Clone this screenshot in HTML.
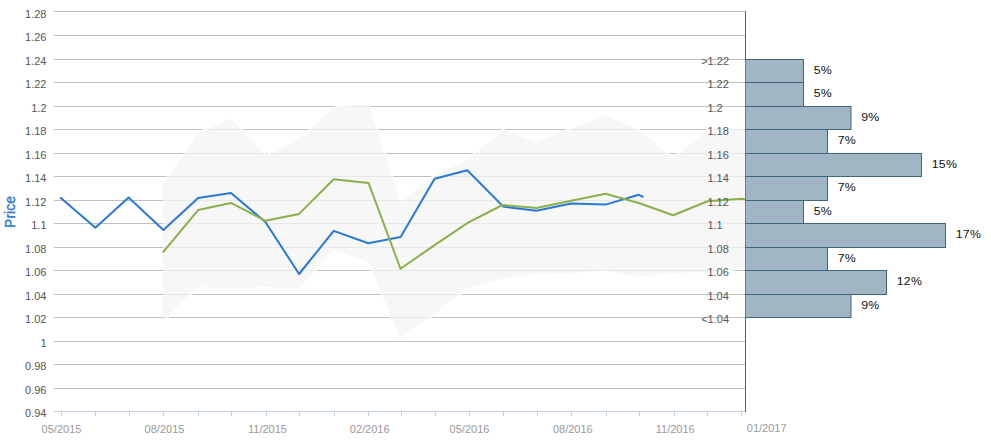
<!DOCTYPE html><html><head><meta charset="utf-8"><style>html,body{margin:0;padding:0;background:#fff;}svg{display:block;font-family:"Liberation Sans",sans-serif;}</style></head><body>
<svg width="991" height="440" viewBox="0 0 991 440">
<rect x="0" y="0" width="991" height="440" fill="#fff"/>
<path d="M54 11.5H745" stroke="#c0c0c0" stroke-width="1"/>
<path d="M54 35.5H745" stroke="#c0c0c0" stroke-width="1"/>
<path d="M54 59.5H745" stroke="#c0c0c0" stroke-width="1"/>
<path d="M54 82.5H745" stroke="#c0c0c0" stroke-width="1"/>
<path d="M54 106.5H745" stroke="#c0c0c0" stroke-width="1"/>
<path d="M54 129.5H745" stroke="#c0c0c0" stroke-width="1"/>
<path d="M54 153.5H745" stroke="#c0c0c0" stroke-width="1"/>
<path d="M54 176.5H745" stroke="#c0c0c0" stroke-width="1"/>
<path d="M54 200.5H745" stroke="#c0c0c0" stroke-width="1"/>
<path d="M54 223.5H745" stroke="#c0c0c0" stroke-width="1"/>
<path d="M54 247.5H745" stroke="#c0c0c0" stroke-width="1"/>
<path d="M54 270.5H745" stroke="#c0c0c0" stroke-width="1"/>
<path d="M54 294.5H745" stroke="#c0c0c0" stroke-width="1"/>
<path d="M54 317.5H745" stroke="#c0c0c0" stroke-width="1"/>
<path d="M54 341.5H745" stroke="#c0c0c0" stroke-width="1"/>
<path d="M54 364.5H745" stroke="#c0c0c0" stroke-width="1"/>
<path d="M54 388.5H745" stroke="#c0c0c0" stroke-width="1"/>
<defs><clipPath id="pc"><rect x="54" y="0" width="691" height="412"/></clipPath></defs>
<g clip-path="url(#pc)"><polygon points="163.1,183.0 198.1,132.6 230.9,117.6 266.0,155.0 299.2,138.5 333.7,107.4 368.4,103.4 400.4,200.3 434.7,174.8 468.0,158.6 503.1,129.3 536.0,142.0 571.0,128.3 605.2,115.3 638.4,129.0 673.4,157.5 707.5,129.0 742.0,128.5 748.0,128.5 748.0,268.5 742.0,268.8 707.5,272.9 673.2,273.5 638.5,277.3 604.5,271.0 571.0,273.5 536.5,274.3 503.4,279.0 468.0,288.0 434.5,315.0 399.8,338.8 368.0,261.8 333.9,250.9 299.3,289.1 264.6,287.6 231.2,289.0 197.6,287.6 163.1,322.3" fill="#f4f4f4" fill-opacity="0.75"/>
<polyline points="163.1,183.0 198.1,132.6 230.9,117.6 266.0,155.0 299.2,138.5 333.7,107.4 368.4,103.4 400.4,200.3 434.7,174.8 468.0,158.6 503.1,129.3 536.0,142.0 571.0,128.3 605.2,115.3 638.4,129.0 673.4,157.5 707.5,129.0 742.0,128.5 748.0,128.5" fill="none" stroke="#fff" stroke-width="1.2" stroke-linejoin="round"/>
<polyline points="163.1,322.3 197.6,287.6 231.2,289.0 264.6,287.6 299.3,289.1 333.9,250.9 368.0,261.8 399.8,338.8 434.5,315.0 468.0,288.0 503.4,279.0 536.5,274.3 571.0,273.5 604.5,271.0 638.5,277.3 673.2,273.5 707.5,272.9 742.0,268.8 748.0,268.5" fill="none" stroke="#fff" stroke-width="1.2" stroke-linejoin="round"/>
<polyline points="60.9,197.9 95.4,227.7 128.6,197.5 163.4,230.0 198.1,197.9 231.0,193.1 265.4,222.0 299.1,274.0 333.7,230.9 368.3,243.2 400.6,237.0 434.6,178.8 467.3,170.3 503.3,206.6 536.3,210.7 571.2,203.6 605.5,204.6 638.7,194.8 642.6,196.7" fill="none" stroke="#2a78d6" stroke-width="2" stroke-linejoin="round" stroke-linecap="round"/>
<polyline points="163.3,251.8 198.1,210.1 231.0,202.9 265.4,220.8 299.1,213.9 333.7,179.3 368.5,182.9 400.5,268.7 434.6,245.1 468.1,222.7 502.5,205.0 536.4,208.1 571.2,200.8 605.5,193.7 638.7,203.0 673.2,215.3 707.5,201.3 742.0,198.7 748.0,200.0" fill="none" stroke="#8bb04b" stroke-width="2" stroke-linejoin="round" stroke-linecap="round"/></g>
<path d="M54 411.5H745" stroke="#c0d0e0" stroke-width="1"/>
<path d="M61.5 411V416" stroke="#c0d0e0" stroke-width="1"/>
<path d="M95.5 411V416" stroke="#c0d0e0" stroke-width="1"/>
<path d="M129.5 411V416" stroke="#c0d0e0" stroke-width="1"/>
<path d="M163.5 411V416" stroke="#c0d0e0" stroke-width="1"/>
<path d="M198.5 411V416" stroke="#c0d0e0" stroke-width="1"/>
<path d="M231.5 411V416" stroke="#c0d0e0" stroke-width="1"/>
<path d="M266.5 411V416" stroke="#c0d0e0" stroke-width="1"/>
<path d="M299.5 411V416" stroke="#c0d0e0" stroke-width="1"/>
<path d="M334.5 411V416" stroke="#c0d0e0" stroke-width="1"/>
<path d="M368.5 411V416" stroke="#c0d0e0" stroke-width="1"/>
<path d="M401.5 411V416" stroke="#c0d0e0" stroke-width="1"/>
<path d="M435.5 411V416" stroke="#c0d0e0" stroke-width="1"/>
<path d="M469.5 411V416" stroke="#c0d0e0" stroke-width="1"/>
<path d="M503.5 411V416" stroke="#c0d0e0" stroke-width="1"/>
<path d="M537.5 411V416" stroke="#c0d0e0" stroke-width="1"/>
<path d="M571.5 411V416" stroke="#c0d0e0" stroke-width="1"/>
<path d="M606.5 411V416" stroke="#c0d0e0" stroke-width="1"/>
<path d="M639.5 411V416" stroke="#c0d0e0" stroke-width="1"/>
<path d="M674.5 411V416" stroke="#c0d0e0" stroke-width="1"/>
<path d="M707.5 411V416" stroke="#c0d0e0" stroke-width="1"/>
<path d="M741.5 411V416" stroke="#c0d0e0" stroke-width="1"/>
<text x="61.5" y="433" font-size="11" fill="#999" text-anchor="middle">05/2015</text>
<text x="164.5" y="433" font-size="11" fill="#999" text-anchor="middle">08/2015</text>
<text x="267.5" y="433" font-size="11" fill="#999" text-anchor="middle">11/2015</text>
<text x="369.7" y="433" font-size="11" fill="#999" text-anchor="middle">02/2016</text>
<text x="469.5" y="433" font-size="11" fill="#999" text-anchor="middle">05/2016</text>
<text x="572.8" y="433" font-size="11" fill="#999" text-anchor="middle">08/2016</text>
<text x="675.2" y="433" font-size="11" fill="#999" text-anchor="middle">11/2016</text>
<text x="746.8" y="432.2" font-size="11" fill="#999">01/2017</text>
<text x="46.5" y="18" font-size="11" fill="#555" text-anchor="end">1.28</text>
<text x="46.5" y="41" font-size="11" fill="#555" text-anchor="end">1.26</text>
<text x="46.5" y="65" font-size="11" fill="#555" text-anchor="end">1.24</text>
<text x="46.5" y="88" font-size="11" fill="#555" text-anchor="end">1.22</text>
<text x="46.5" y="112" font-size="11" fill="#555" text-anchor="end">1.2</text>
<text x="46.5" y="135" font-size="11" fill="#555" text-anchor="end">1.18</text>
<text x="46.5" y="159" font-size="11" fill="#555" text-anchor="end">1.16</text>
<text x="46.5" y="182" font-size="11" fill="#555" text-anchor="end">1.14</text>
<text x="46.5" y="206" font-size="11" fill="#555" text-anchor="end">1.12</text>
<text x="46.5" y="229" font-size="11" fill="#555" text-anchor="end">1.1</text>
<text x="46.5" y="253" font-size="11" fill="#555" text-anchor="end">1.08</text>
<text x="46.5" y="276" font-size="11" fill="#555" text-anchor="end">1.06</text>
<text x="46.5" y="300" font-size="11" fill="#555" text-anchor="end">1.04</text>
<text x="46.5" y="323" font-size="11" fill="#555" text-anchor="end">1.02</text>
<text x="46.5" y="347" font-size="11" fill="#555" text-anchor="end">1</text>
<text x="46.5" y="370" font-size="11" fill="#555" text-anchor="end">0.98</text>
<text x="46.5" y="394" font-size="11" fill="#555" text-anchor="end">0.96</text>
<text x="46.5" y="417" font-size="11" fill="#555" text-anchor="end">0.94</text>
<text transform="translate(14.8,212) rotate(-90)" font-size="14" fill="#2a76d6" stroke="#2a76d6" stroke-width="0.35" text-anchor="middle">Price</text>
<rect x="745.5" y="59.5" width="58.0" height="23" fill="#a0b6c4" stroke="#3f6578" stroke-width="1"/>
<text transform="translate(813.8,73.6) scale(1.12,1)" font-size="11" fill="#111" letter-spacing="0.2">5%</text>
<rect x="745.5" y="82.5" width="58.0" height="24" fill="#a0b6c4" stroke="#3f6578" stroke-width="1"/>
<text transform="translate(813.8,97.1) scale(1.12,1)" font-size="11" fill="#111" letter-spacing="0.2">5%</text>
<rect x="745.5" y="106.5" width="105.5" height="23" fill="#a0b6c4" stroke="#3f6578" stroke-width="1"/>
<text transform="translate(861.3,120.6) scale(1.12,1)" font-size="11" fill="#111" letter-spacing="0.2">9%</text>
<rect x="745.5" y="129.5" width="82.0" height="24" fill="#a0b6c4" stroke="#3f6578" stroke-width="1"/>
<text transform="translate(837.8,144.1) scale(1.12,1)" font-size="11" fill="#111" letter-spacing="0.2">7%</text>
<rect x="745.5" y="153.5" width="176.0" height="23" fill="#a0b6c4" stroke="#3f6578" stroke-width="1"/>
<text transform="translate(931.8,167.6) scale(1.12,1)" font-size="11" fill="#111" letter-spacing="0.2">15%</text>
<rect x="745.5" y="176.5" width="82.0" height="24" fill="#a0b6c4" stroke="#3f6578" stroke-width="1"/>
<text transform="translate(837.8,191.1) scale(1.12,1)" font-size="11" fill="#111" letter-spacing="0.2">7%</text>
<rect x="745.5" y="200.5" width="58.0" height="23" fill="#a0b6c4" stroke="#3f6578" stroke-width="1"/>
<text transform="translate(813.8,214.6) scale(1.12,1)" font-size="11" fill="#111" letter-spacing="0.2">5%</text>
<rect x="745.5" y="223.5" width="200.0" height="24" fill="#a0b6c4" stroke="#3f6578" stroke-width="1"/>
<text transform="translate(955.8,238.1) scale(1.12,1)" font-size="11" fill="#111" letter-spacing="0.2">17%</text>
<rect x="745.5" y="247.5" width="82.0" height="23" fill="#a0b6c4" stroke="#3f6578" stroke-width="1"/>
<text transform="translate(837.8,261.6) scale(1.12,1)" font-size="11" fill="#111" letter-spacing="0.2">7%</text>
<rect x="745.5" y="270.5" width="141.0" height="24" fill="#a0b6c4" stroke="#3f6578" stroke-width="1"/>
<text transform="translate(896.8,285.1) scale(1.12,1)" font-size="11" fill="#111" letter-spacing="0.2">12%</text>
<rect x="745.5" y="294.5" width="105.5" height="23" fill="#a0b6c4" stroke="#3f6578" stroke-width="1"/>
<text transform="translate(861.3,308.6) scale(1.12,1)" font-size="11" fill="#111" letter-spacing="0.2">9%</text>
<text x="701.2" y="64.5" font-size="11" fill="#555">&gt;1.22</text>
<text x="707.4" y="87.5" font-size="11" fill="#555">1.22</text>
<text x="707.4" y="111.5" font-size="11" fill="#555">1.2</text>
<text x="707.4" y="134.5" font-size="11" fill="#555">1.18</text>
<text x="707.4" y="158.5" font-size="11" fill="#555">1.16</text>
<text x="707.4" y="181.5" font-size="11" fill="#555">1.14</text>
<text x="707.4" y="205.5" font-size="11" fill="#555">1.12</text>
<text x="707.4" y="228.5" font-size="11" fill="#555">1.1</text>
<text x="707.4" y="252.5" font-size="11" fill="#555">1.08</text>
<text x="707.4" y="275.5" font-size="11" fill="#555">1.06</text>
<text x="707.4" y="299.5" font-size="11" fill="#555">1.04</text>
<text x="701.2" y="322.5" font-size="11" fill="#555">&lt;1.04</text>
<path d="M745.5 11V59.5M745.5 317V412" stroke="#3f6578" stroke-width="1"/>
<path d="M745.5 60V82" stroke="#5d8496" stroke-width="1"/>
<path d="M745.5 83V106" stroke="#5d8496" stroke-width="1"/>
<path d="M745.5 107V129" stroke="#5d8496" stroke-width="1"/>
<path d="M745.5 130V153" stroke="#5d8496" stroke-width="1"/>
<path d="M745.5 154V176" stroke="#5d8496" stroke-width="1"/>
<path d="M745.5 177V200" stroke="#5d8496" stroke-width="1"/>
<path d="M745.5 201V223" stroke="#5d8496" stroke-width="1"/>
<path d="M745.5 224V247" stroke="#5d8496" stroke-width="1"/>
<path d="M745.5 248V270" stroke="#5d8496" stroke-width="1"/>
<path d="M745.5 271V294" stroke="#5d8496" stroke-width="1"/>
<path d="M745.5 295V317" stroke="#5d8496" stroke-width="1"/>
</svg></body></html>
